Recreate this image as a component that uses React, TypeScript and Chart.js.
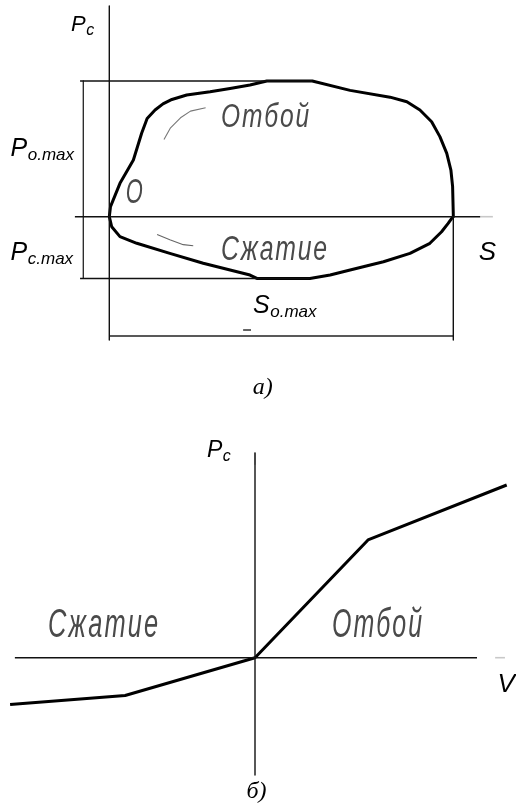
import React, { useEffect, useRef } from "react";
import { Chart, registerables } from "chart.js";
Chart.register(...registerables);

// ---------- Panel a): work diagram P(S), normalised: S_o.max = 100, P_o.max = 100 ----------
const P_O_MAX = 100;
const P_C_MAX = -45.5;
const S_MAX = 100;

// closed loop: rebound branch (upper) then compression branch (lower)
const loopS = [
  0, 0.35, 3.1, 7.0, 9.4, 11.0, 13.3, 15.6, 18.2, 22.5, 29.3, 35.1, 40.9, 45.8, 59.0,
  70.0, 81.6, 86.5, 90.3, 93.7, 96.1, 98.1, 99.3, 99.8, 100, 100,
  99.6, 98.5, 96.6, 93.2, 87.4, 79.7, 70.0, 64.2, 58.3, 42.9, 40.9, 27.3, 17.6, 8.0, 3.1, 0.7, 0,
];
const loopP = [
  0, 7.4, 24.6, 41.8, 61.5, 72.4, 78.6, 83.1, 86.4, 89.7, 92.1, 94.5, 97.1, 100, 100,
  93.1, 88.1, 84.7, 78.6, 70.0, 59.0, 46.7, 34.4, 22.1, 1.3, 0,
  -1.0, -4.9, -11.1, -19.6, -27.0, -33.2, -39.3, -43.0, -45.5, -45.5, -43.0, -34.3, -27.0, -19.6, -14.7, -7.4, 0,
];

// leader lines of the captions
const leaderOtboiS = [15.9, 17.8, 20.7, 23.6, 28.0];
const leaderOtboiP = [56.9, 65.5, 72.9, 77.8, 80.3];
const leaderSzhS = [13.9, 17.6, 21.5, 24.4];
const leaderSzhP = [-13.2, -17.0, -20.6, -21.4];

// ---------- Panel b): damping characteristic P(V), normalised ----------
const velV = [-97.3, -51.6, 0, 44.9, 100];
const velP = [-27.1, -21.9, 0, 68.2, 100];

// captions
const captionsA = {
  pc: ["P", "c"],
  pomax: ["P", "o.max"],
  pcmax: ["P", "c.max"],
  s: "S",
  somax: ["S", "o.max"],
  otboi: "Отбой",
  szhatie: "Сжатие",
  o: "О",
  tag: "а)",
};
const captionsB = {
  pc: ["P", "c"],
  v: "V",
  otboi: "Отбой",
  szhatie: "Сжатие",
  tag: "б)",
};

type Pt = { x: number; y: number };
const zip = (xs: number[], ys: number[]): Pt[] => xs.map((x, i) => ({ x, y: ys[i] }));
const seg = (x1: number, y1: number, x2: number, y2: number): Pt[] => [
  { x: x1, y: y1 },
  { x: x2, y: y2 },
];

const MATH = (size: number) => `italic ${size}px "Liberation Sans", Arial, sans-serif`;

function mathLabel(ctx: CanvasRenderingContext2D, main: string, sub: string | null, x: number, y: number, size: number, subSize: number) {
  ctx.save();
  ctx.fillStyle = "#000";
  ctx.textBaseline = "alphabetic";
  ctx.textAlign = "left";
  ctx.font = MATH(size);
  ctx.fillText(main, x, y);
  if (sub) {
    const w = ctx.measureText(main).width;
    ctx.font = MATH(subSize);
    ctx.fillText(sub, x + w + 0.5, y + 4);
  }
  ctx.restore();
}

// thin, tall drafting-style lettering
function gostLabel(ctx: CanvasRenderingContext2D, text: string, x: number, y: number, w: number, h: number) {
  ctx.save();
  const size = 21;
  ctx.font = `italic ${size}px "Liberation Sans Narrow", "Liberation Sans", sans-serif`;
  (ctx as any).letterSpacing = "0px";
  const m = ctx.measureText(text);
  const n = Array.from(text).length;
  const ratio = w / m.width;
  const sx = n > 1 ? Math.min(1.45, Math.pow(ratio, 0.65)) : ratio;
  const ls = n > 1 ? Math.max(0, (w / sx - m.width) / (n - 1)) : 0;
  (ctx as any).letterSpacing = `${ls}px`;
  const sy = h / (0.73 * size);
  ctx.translate(x, y);
  ctx.scale(sx, sy);
  ctx.fillStyle = "#4a4a4a";
  ctx.textBaseline = "alphabetic";
  ctx.fillText(text, 0, 0);
  ctx.restore();
}

function serifLabel(ctx: CanvasRenderingContext2D, text: string, x: number, y: number) {
  ctx.save();
  ctx.font = 'italic 24px "Liberation Serif", "Times New Roman", serif';
  ctx.fillStyle = "#000";
  ctx.textAlign = "center";
  ctx.fillText(text, x, y);
  ctx.restore();
}

const baseOptions = (xmin: number, xmax: number, ymin: number, ymax: number): any => ({
  animation: false,
  responsive: false,
  maintainAspectRatio: false,
  events: [],
  layout: { padding: 0 },
  plugins: { legend: { display: false }, tooltip: { enabled: false }, title: { display: false } },
  elements: { point: { radius: 0, hoverRadius: 0 }, line: { tension: 0 } },
  scales: {
    x: { type: "linear", min: xmin, max: xmax, display: false },
    y: { type: "linear", min: ymin, max: ymax, display: false },
  },
});

const lineDs = (data: Pt[], color: string, width: number, extra: any = {}) => ({
  data,
  showLine: true,
  borderColor: color,
  borderWidth: width,
  pointRadius: 0,
  fill: false,
  borderCapStyle: "butt",
  borderJoinStyle: "round",
  clip: false,
  ...extra,
});

export default function App() {
  const refA = useRef<HTMLCanvasElement>(null);
  const refB = useRef<HTMLCanvasElement>(null);

  useEffect(() => {
    const labelsA = {
      id: "labelsA",
      afterDatasetsDraw(chart: any) {
        const { ctx } = chart;
        const X = (v: number) => chart.scales.x.getPixelForValue(v);
        const Y = (v: number) => chart.scales.y.getPixelForValue(v);
        mathLabel(ctx, captionsA.pc[0], captionsA.pc[1], X(-11.1), Y(136.8), 22, 16);
        mathLabel(ctx, captionsA.pomax[0], captionsA.pomax[1], X(-28.7), Y(44.7), 25, 17);
        mathLabel(ctx, captionsA.pcmax[0], captionsA.pcmax[1], X(-28.7), Y(-31.9), 25, 17);
        mathLabel(ctx, captionsA.s, null, X(107.4), Y(-31.9), 26, 17);
        mathLabel(ctx, captionsA.somax[0], captionsA.somax[1], X(41.8), Y(-71.0), 25, 17);
        gostLabel(ctx, captionsA.otboi, X(32.5), Y(66.1), 88, 24);
        gostLabel(ctx, captionsA.szhatie, X(32.5), Y(-31.9), 106, 26);
        gostLabel(ctx, captionsA.o, X(4.8), Y(10.1), 17, 26);
        serifLabel(ctx, captionsA.tag, X(44.6), Y(-131.0));
      },
    };
    const sx = 3.44; // px per S unit
    const chartA = new Chart(refA.current!, {
      type: "scatter",
      data: {
        datasets: [
          lineDs(seg(-10, 0, 107.8, 0), "#111", 1.4),
          lineDs(seg(107.8, 0, 111.5, 0), "#c8c8c8", 1.6),
          lineDs(seg(0, 155.3, 0, -90.9), "#111", 1.4),
          lineDs(seg(-8.5, P_O_MAX, 59, P_O_MAX), "#111", 1.4),
          lineDs(seg(-8.5, P_C_MAX, 58.3, P_C_MAX), "#111", 1.4),
          lineDs(seg(-7.56, P_O_MAX, -7.56, P_C_MAX), "#222", 1.3),
          lineDs(seg(S_MAX, 0, S_MAX, -90.9), "#111", 1.4),
          lineDs(seg(0, -87.9, S_MAX, -87.9), "#222", 1.4),
          lineDs(seg(38.9, -83.5, 41.2, -83.5), "#222", 1.4),
          lineDs(zip(leaderOtboiS, leaderOtboiP), "#777", 1.1),
          lineDs(zip(leaderSzhS, leaderSzhP), "#666", 1.1),
          lineDs(zip(loopS, loopP), "#000", 3, { borderJoinStyle: "round", borderCapStyle: "round" }),
        ],
      },
      options: baseOptions(-109.3 / sx, (516 - 109.3) / sx, -(400 - 216.7) / 1.357, 216.7 / 1.357),
      plugins: [labelsA],
    });

    const labelsB = {
      id: "labelsB",
      afterDatasetsDraw(chart: any) {
        const { ctx } = chart;
        const X = (v: number) => chart.scales.x.getPixelForValue(v);
        const Y = (v: number) => chart.scales.y.getPixelForValue(v);
        mathLabel(ctx, captionsB.pc[0], captionsB.pc[1], X(-19.1), Y(116.2), 23, 16);
        mathLabel(ctx, captionsB.v, null, X(96.3), Y(-19.9), 26, 17);
        gostLabel(ctx, captionsB.szhatie, X(-82.2), Y(12.0), 110, 29);
        gostLabel(ctx, captionsB.otboi, X(30.6), Y(12.0), 90, 29);
        serifLabel(ctx, captionsB.tag, X(0.6), Y(-81.5));
      },
    };
    const vx = 2.517;
    const py = 1.727;
    const chartB = new Chart(refB.current!, {
      type: "scatter",
      data: {
        datasets: [
          lineDs(seg(-95.4, 0, 88.2, 0), "#111", 1.4),
          lineDs(seg(95.4, 0, 99.3, 0), "#c8c8c8", 1.6),
          lineDs(seg(0, 118.5, 0, -67.9), "#111", 1.4),
          lineDs(seg(0, 118.5, 0, 112), "#bbb", 1.6),
          lineDs(zip(velV, velP), "#000", 3, { borderJoinStyle: "round", borderCapStyle: "butt" }),
        ],
      },
      options: baseOptions(-255 / vx, (516 - 255) / vx, -(808 - 657.7) / py, (657.7 - 400) / py),
      plugins: [labelsB],
    });

    return () => {
      chartA.destroy();
      chartB.destroy();
    };
  }, []);

  return (
    <div style={{ position: "absolute", left: 0, top: 0, width: 516, height: 808, background: "#fff" }}>
      <canvas ref={refA} width={516} height={400} style={{ position: "absolute", left: 0, top: 0, width: 516, height: 400 }} />
      <canvas ref={refB} width={516} height={408} style={{ position: "absolute", left: 0, top: 400, width: 516, height: 408 }} />
    </div>
  );
}
